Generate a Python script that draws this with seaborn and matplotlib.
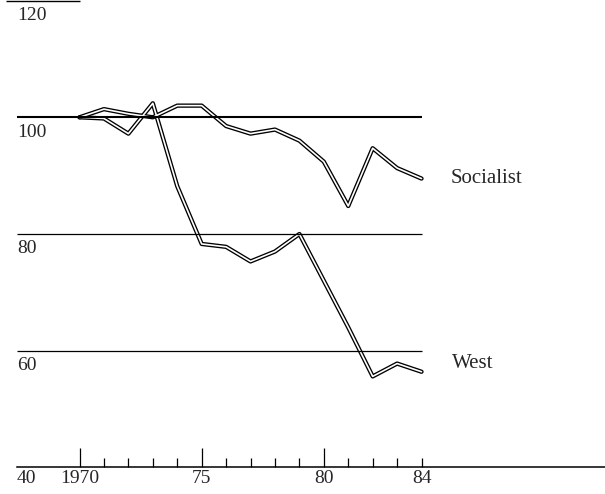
import matplotlib
matplotlib.use("Agg")
import matplotlib.pyplot as plt
import seaborn as sns

# values (index, 1970 = 100)
years = list(range(1970, 1985))
socialist = [100.0, 101.4, 100.6, 100.0, 102.0, 102.0, 98.5, 97.2, 97.9, 96.0, 92.4, 84.8, 94.7, 91.3, 89.5]
west = [100.0, 99.8, 97.2, 102.4, 88.2, 78.3, 77.8, 75.3, 77.0, 80.0, 72.0, 64.0, 55.6, 57.8, 56.4]

levels = [120, 100, 80, 60]
major_years = [1970, 1975, 1980]
major_labels = ["1970", "75", "80"]
minor_years = [y for y in years if y not in major_years]
minor_labels = ["84" if y == 1984 else "" for y in minor_years]

sns.set_style("white")
plt.rcParams["font.family"] = ["Liberation Serif", "DejaVu Serif"]

fig = plt.figure(figsize=(6.05, 4.94), dpi=100)
ax = fig.add_axes([0, 0, 1, 1])

# hollow "double" lines: thick black stroke with a thin white core
for series in [socialist, west]:
    sns.lineplot(x=years, y=series, color="black", linewidth=3.1, ax=ax, zorder=2)
    sns.lineplot(x=years, y=series, color="white", linewidth=1.2, ax=ax, zorder=2.1)

x0 = 1967.44
# reference lines
ax.hlines(120, 1967.0, 1970.0, color="black", linewidth=1.0, zorder=3)
ax.hlines(100, x0, 1984, color="black", linewidth=1.5, zorder=3)
ax.hlines([80, 60], x0, 1984, color="black", linewidth=0.9, zorder=3)

for v in levels:
    ax.annotate(str(v), xy=(x0, v), xytext=(0, -4.5), textcoords="offset points",
                ha="left", va="top", fontsize=14)
ax.annotate("40", xy=(x0, 40), xytext=(0, -2), textcoords="offset points",
            ha="left", va="top", fontsize=14)

ax.annotate("Socialist", xy=(1984, socialist[-1]), xytext=(21, 0),
            textcoords="offset points", ha="left", va="center", fontsize=15)
ax.annotate("West", xy=(1984, west[-1]), xytext=(22, 6),
            textcoords="offset points", ha="left", va="center", fontsize=15)

ax.set_xlim(1966.745, 1991.51)
ax.set_ylim(35.45, 120.1)

sns.despine(ax=ax, left=True)
ax.spines["bottom"].set_position(("data", 40))
ax.spines["bottom"].set_bounds(x0, 1991.51)
ax.spines["bottom"].set_linewidth(1.1)
ax.spines["bottom"].set_color("black")

ax.set_xticks(major_years, labels=major_labels)
ax.set_xticks(minor_years, labels=minor_labels, minor=True)
ax.tick_params(axis="x", which="major", bottom=True, direction="in", length=13.5,
               width=0.9, pad=2, labelsize=14, color="black")
ax.tick_params(axis="x", which="minor", bottom=True, direction="in", length=6.8,
               width=0.9, pad=2, labelsize=14, color="black")
ax.set_yticks([])
ax.set_xlabel("")
ax.set_ylabel("")

fig.savefig("out.png", dpi=100)
